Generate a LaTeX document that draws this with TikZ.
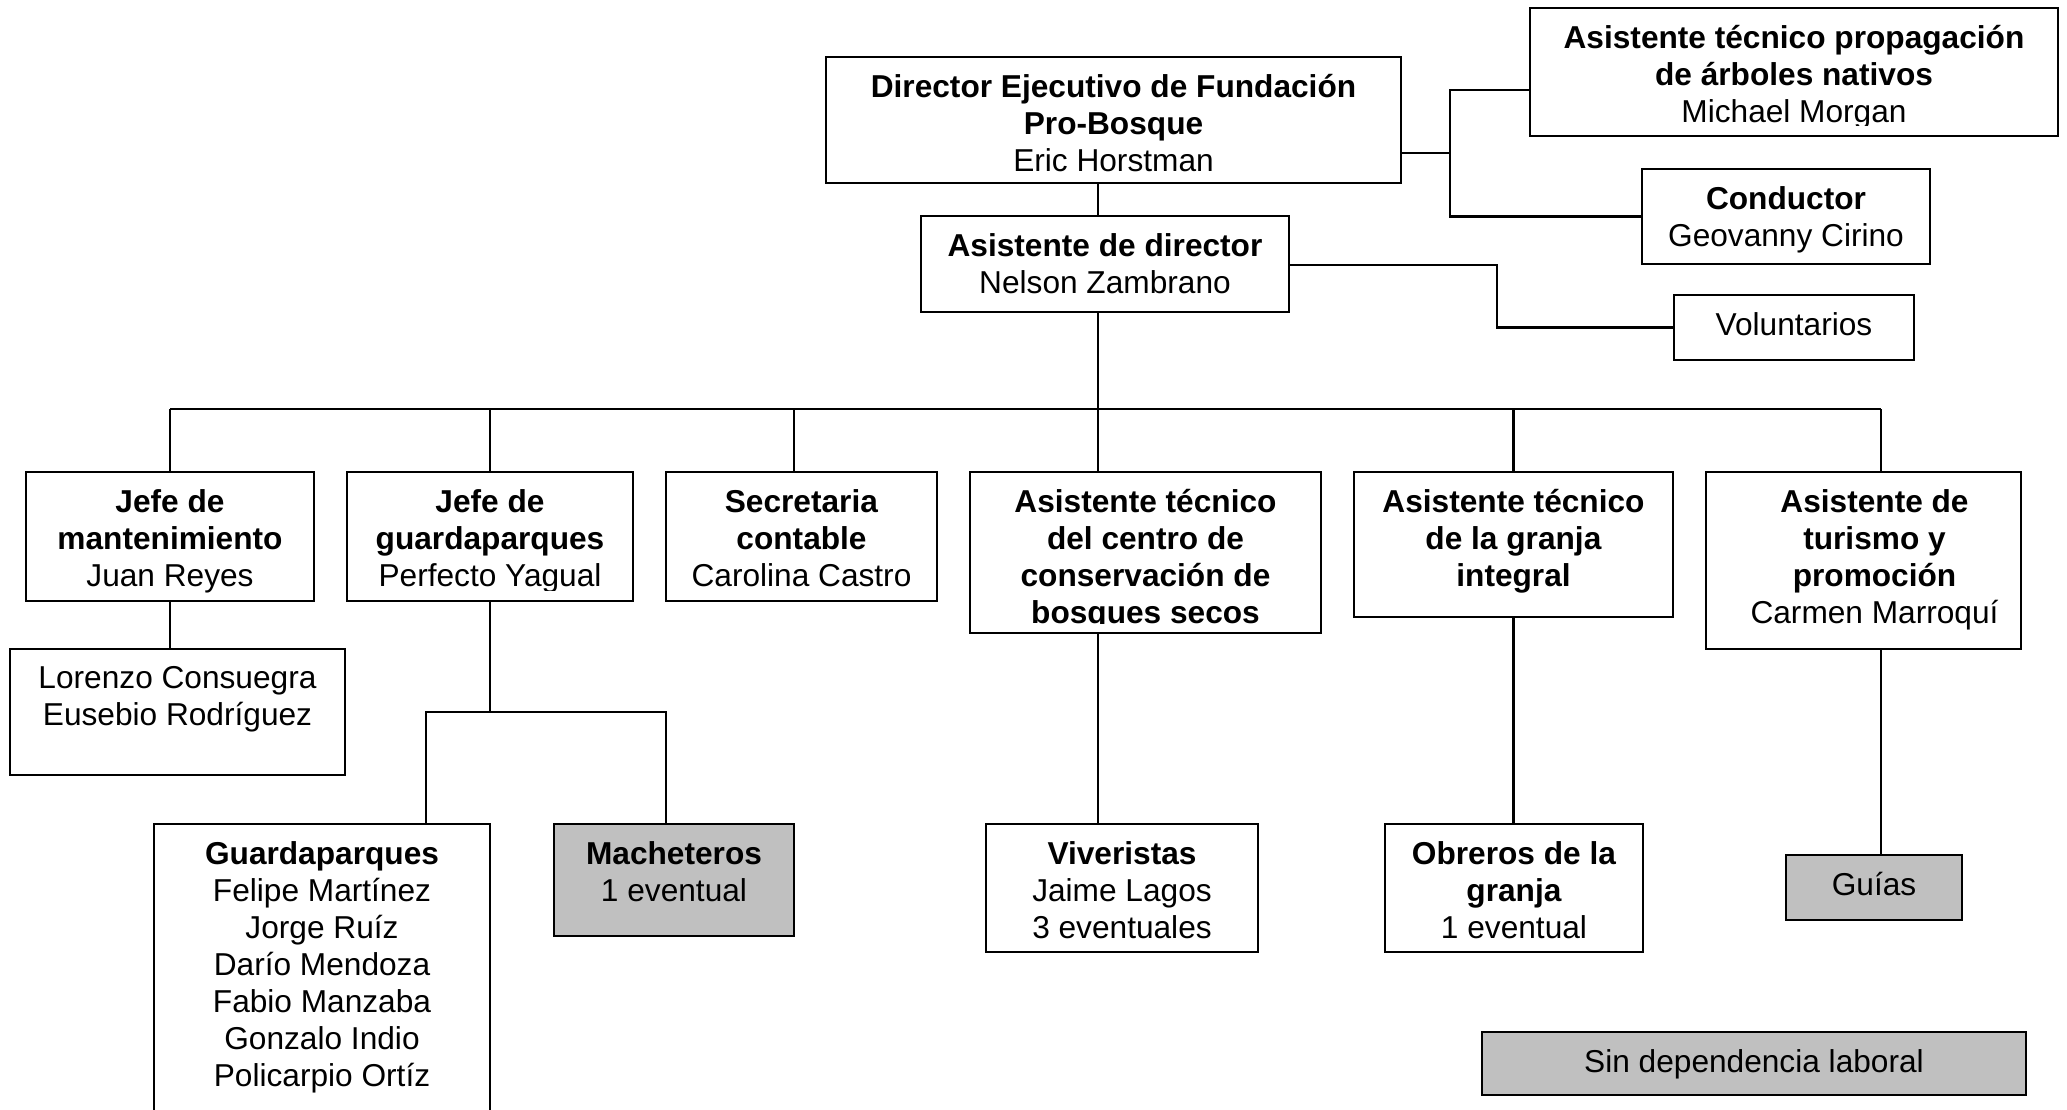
\documentclass[tikz,border=0pt]{standalone}
\usepackage{fontspec}
\setmainfont{Liberation Sans}
\usetikzlibrary{positioning, fit}
\definecolor{ink}{HTML}{000000}
\definecolor{shade}{HTML}{C0C0C0}
\tikzset{
  box/.style={draw=ink, line width=0.6pt, fill=white, inner sep=0pt},
  boxg/.style={box, fill=shade},
  txt/.style={align=center, inner sep=0pt, text=ink,
              font=\fontsize{9}{10.5}\selectfont},
  link/.style={draw=ink, line width=0.6pt},
}

\begin{document}
\begin{tikzpicture}[x=0.01cm, y=-0.01cm]
\useasboundingbox (0,0) rectangle (2067,1109);

% ---------------------------------------------------------------
% top: director and his staff
% ---------------------------------------------------------------
\node[box, fit={(826,57) (1401,183)}] (dir) {};
\node[txt, below=0.18cm of dir.north] (dirT)
  {\textbf{Director Ejecutivo de Fundación}\\\textbf{Pro-Bosque}\\Eric Horstman};

\node[box, fit={(1530,8) (2058,136)}] (prop) {};
\begin{scope}
  \clip (prop.north west) rectangle ([yshift=0.12cm]prop.south east);
  \node[txt, below=0.18cm of prop.north] (propT)
    {\textbf{Asistente técnico propagación}\\\textbf{de árboles nativos}\\Michael Morgan};
\end{scope}

\node[box, fit={(1642,169) (1930,264)}] (cond) {};
\node[txt, below=0.18cm of cond.north] (condT)
  {\textbf{Conductor}\\Geovanny Cirino};

\node[box, fit={(921,216) (1289,312)}] (adir) {};
\node[txt, below=0.18cm of adir.north] (adirT)
  {\textbf{Asistente de director}\\Nelson Zambrano};

\node[box, fit={(1674,295) (1914,360)}] (vol) {};
\node[txt, below=0.18cm of vol.north] (volT) {Voluntarios};

% ---------------------------------------------------------------
% middle row
% ---------------------------------------------------------------
\node[box, fit={(26,472) (314,601)}] (mant) {};
\node[txt, below=0.18cm of mant.north] (mantT)
  {\textbf{Jefe de}\\\textbf{mantenimiento}\\Juan Reyes};

\node[box, fit={(347,472) (633,601)}] (jefeg) {};
\begin{scope}
  \clip (jefeg.north west) rectangle ([yshift=0.12cm]jefeg.south east);
  \node[txt, below=0.18cm of jefeg.north] (jefegT)
    {\textbf{Jefe de}\\\textbf{guardaparques}\\Perfecto Yagual};
\end{scope}

\node[box, fit={(666,472) (937,601)}] (secr) {};
\node[txt, below=0.18cm of secr.north] (secrT)
  {\textbf{Secretaria}\\\textbf{contable}\\Carolina Castro};

\node[box, fit={(970,472) (1321,633)}] (cent) {};
\begin{scope}
  \clip (cent.north west) rectangle ([yshift=0.11cm]cent.south east);
  \node[txt, below=0.18cm of cent.north] (centT)
    {\textbf{Asistente técnico}\\\textbf{del centro de}\\\textbf{conservación de}\\\textbf{bosques secos}};
\end{scope}

\node[box, fit={(1354,472) (1673,617)}] (granja) {};
\node[txt, below=0.18cm of granja.north] (granjaT)
  {\textbf{Asistente técnico}\\\textbf{de la granja}\\\textbf{integral}};

\node[box, fit={(1706,472) (2021,649)}] (tur) {};
\node[txt, below=0.18cm of tur.north, xshift=0.11cm] (turT)
  {\textbf{Asistente de}\\\textbf{turismo y}\\\textbf{promoción}\\Carmen Marroquí};

% ---------------------------------------------------------------
% bottom row
% ---------------------------------------------------------------
\node[box, fit={(10,649) (345,775)}] (lor) {};
\node[txt, below=0.18cm of lor.north] (lorT)
  {Lorenzo Consuegra\\Eusebio Rodríguez};

\node[box, fit={(154,824) (490,1130)}] (guard) {};
\node[txt, below=0.18cm of guard.north] (guardT)
  {\textbf{Guardaparques}\\Felipe Martínez\\Jorge Ruíz\\Darío Mendoza\\Fabio Manzaba\\Gonzalo Indio\\Policarpio Ortíz};

\node[boxg, fit={(554,824) (794,936)}] (mach) {};
\node[txt, below=0.18cm of mach.north] (machT)
  {\textbf{Macheteros}\\1 eventual};

\node[box, fit={(986,824) (1258,952)}] (viv) {};
\node[txt, below=0.18cm of viv.north] (vivT)
  {\textbf{Viveristas}\\Jaime Lagos\\3 eventuales};

\node[box, fit={(1385,824) (1643,952)}] (obr) {};
\node[txt, below=0.18cm of obr.north] (obrT)
  {\textbf{Obreros de la}\\\textbf{granja}\\1 eventual};

\node[boxg, fit={(1786,855) (1962,920)}] (guias) {};
\node[txt, below=0.18cm of guias.north] (guiasT) {Guías};

\node[boxg, fit={(1482,1032) (2026,1095)}] (sin) {};
\node[txt, below=0.18cm of sin.north] (sinT) {Sin dependencia laboral};

% ---------------------------------------------------------------
% connectors
% ---------------------------------------------------------------
\coordinate (spine) at (1098,0);
\coordinate (bus) at (0,409);
\coordinate (fork) at (1450,153);
\coordinate (propin) at (1450,90);
\coordinate (vfork) at (1497,265);
\coordinate (dsecr) at (794,409);
\coordinate (dtur) at (1881,409);
\coordinate (dguard) at (426,712);
\coordinate (dmach) at (666,712);

\draw[link] (dir.south -| spine) -- (adir.north -| spine);
\draw[link] (dir.east |- fork) -- (fork);
\draw[link] (propin -| prop.west) -- (propin) |- (cond.west);
\draw[link] (adir.east |- vfork) -- (vfork) |- (vol.west);

\draw[link] (adir.south -| spine) -- (cent.north -| spine);
\draw[link] (bus -| mant.north) -- (bus -| dtur);
\foreach \n in {mant, jefeg, granja}
  \draw[link] (bus -| \n.north) -- (\n.north);
\draw[link] (dsecr) -- (dsecr |- secr.north);
\draw[link] (dtur) -- (dtur |- tur.north);

\draw[link] (mant.south) -- (lor.north -| mant.south);
\draw[link] (jefeg.south) -- (jefeg.south |- dguard);
\draw[link] (dguard |- guard.north) -- (dguard) -- (dmach) -- (dmach |- mach.north);
\draw[link] (cent.south -| spine) -- (viv.north -| spine);
\draw[link] (granja.south) -- (obr.north -| granja.south);
\draw[link] (tur.south -| dtur) -- (guias.north -| dtur);

\end{tikzpicture}
\end{document}
